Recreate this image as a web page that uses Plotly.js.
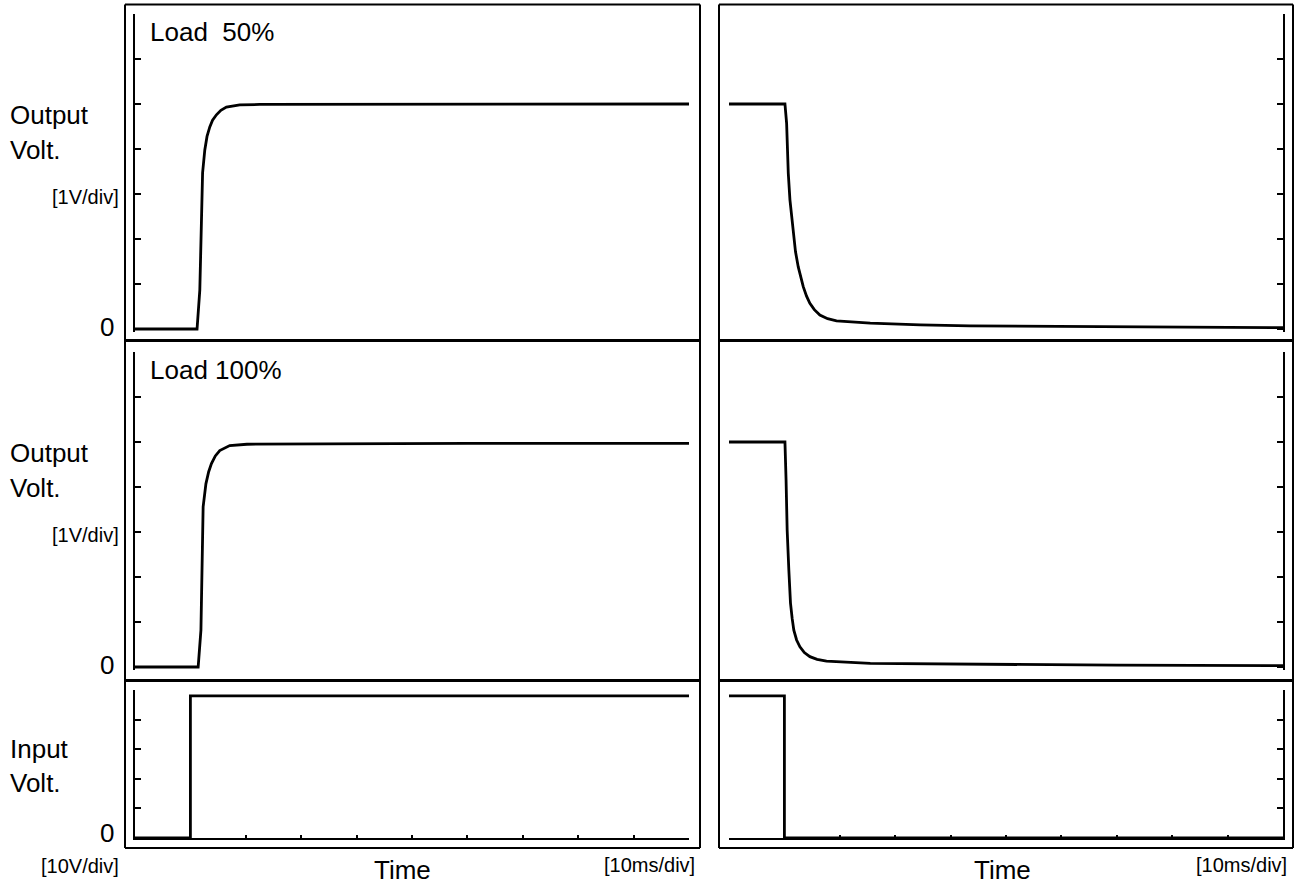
<!DOCTYPE html>
<html>
<head>
<meta charset="utf-8">
<script src="https://cdn.plot.ly/plotly-3.0.1.min.js"></script>
<style>html,body{margin:0;padding:0;background:#fff;}#chart{width:1305px;height:884px;}</style>
</head>
<body>
<div id="chart"></div>
<script>
// ---- Data (time in ms, 10 ms/div; output in V, 1 V/div; input in V, 10 V/div) ----
const t50_on  = [0, 11.2, 11.7, 12.0, 12.2, 12.6, 13.0, 13.5, 14.0, 14.7, 15.5, 16.5, 18.9, 22.5, 60, 100];
const v50_on  = [0, 0, 0.87, 2.36, 3.47, 3.98, 4.28, 4.49, 4.64, 4.76, 4.86, 4.93, 4.98, 4.99, 5.0, 5.0];

const t50_off = [0, 10.1, 10.4, 10.7, 11.0, 11.6, 12.0, 12.5, 13.4, 14.0, 14.6, 15.4, 16.4, 17.8, 19.4, 25.5, 34.5, 43.5, 70, 100];
const v50_off = [5.0, 5.0, 4.57, 3.46, 2.87, 2.13, 1.72, 1.38, 0.94, 0.73, 0.57, 0.43, 0.31, 0.23, 0.18, 0.13, 0.09, 0.07, 0.05, 0.03];

const t100_on = [0, 11.4, 11.9, 12.1, 12.3, 12.8, 13.3, 13.8, 14.5, 15.3, 17.1, 20.2, 60, 100];
const v100_on = [0, 0, 0.82, 2.31, 3.56, 4.07, 4.34, 4.52, 4.69, 4.81, 4.92, 4.95, 4.97, 4.97];

const t100_off = [0, 10.1, 10.3, 10.5, 10.8, 11.1, 11.4, 11.7, 12.2, 12.8, 13.6, 14.6, 15.9, 17.6, 25.5, 42.9, 70, 100];
const v100_off = [5.0, 5.0, 4.16, 3.04, 2.16, 1.42, 1.08, 0.82, 0.60, 0.45, 0.32, 0.23, 0.17, 0.13, 0.08, 0.06, 0.04, 0.03];

const tin_on  = [0, 10, 10, 100];
const vin_on  = [0, 0, 48, 48];
const tin_off = [0, 10, 10, 100];
const vin_off = [48, 48, 0, 0];

const panelLabels = ["Load  50%", "Load 100%"];
const outLabel = ["Output", "Volt."];
const inLabel = ["Input", "Volt."];
const outScale = "[1V/div]";
const inScale = "[10V/div]";
const timeLabel = "Time";
const timeScale = "[10ms/div]";
const zeroLabel = "0";

// ---- Layout helpers (pixel -> paper) ----
const W = 1305, H = 884;
const px = x => x / W;
const py = y => 1 - y / H;
const FONT = "Liberation Sans, Arial, sans-serif";

function tr(x, y, xa, ya) {
  return {x: x, y: y, xaxis: xa, yaxis: ya, type: "scatter", mode: "lines",
          line: {color: "#000", width: 2.8},
          hoverinfo: "skip", showlegend: false};
}
const data = [
  tr(t50_on, v50_on, "x", "y"),
  tr(t50_off, v50_off, "x2", "y2"),
  tr(t100_on, v100_on, "x3", "y3"),
  tr(t100_off, v100_off, "x4", "y4"),
  tr(tin_on, vin_on, "x5", "y5"),
  tr(tin_off, vin_off, "x6", "y6")
];

const xL = [px(135), px(689)], xR = [px(729), px(1283)];
const pad = 0.07;
function outDom(y0) { return [py(y0 + pad * 45), py(y0 - 315)]; }
const yTop = outDom(329), yMid = outDom(667);
const yBot = [py(838), py(690)];

function xHidden(dom, anchor) {
  return {domain: dom, anchor: anchor, range: [0, 100], showline: false, ticks: "",
          showticklabels: false, showgrid: false, zeroline: false, fixedrange: true};
}
function xShown(dom, anchor) {
  return {domain: dom, anchor: anchor, range: [0, 100], showline: true, linecolor: "#000",
          linewidth: 2, ticks: "inside", ticklen: 3, tickwidth: 2, tickcolor: "#000",
          tick0: 0, dtick: 10, showticklabels: false, showgrid: false, zeroline: false, fixedrange: true};
}
function yOut(dom, anchor, side) {
  return {domain: dom, anchor: anchor, side: side, range: [-pad, 7], showline: true, linecolor: "#000",
          linewidth: 2, ticks: "inside", ticklen: 6, tickwidth: 2, tickcolor: "#000",
          tick0: 0, dtick: 1, showticklabels: false, showgrid: false, zeroline: false, fixedrange: true};
}
function yIn(dom, anchor, side) {
  return {domain: dom, anchor: anchor, side: side, range: [0, 50], showline: true, linecolor: "#000",
          linewidth: 2, ticks: "inside", ticklen: 6, tickwidth: 2, tickcolor: "#000",
          tick0: 0, dtick: 10, showticklabels: false, showgrid: false, zeroline: false, fixedrange: true};
}

const shapes = [];
function hline(x0, x1, y, w) {
  shapes.push({type: "line", xref: "paper", yref: "paper", x0: px(x0), x1: px(x1), y0: py(y), y1: py(y),
               line: {color: "#000", width: w}});
}
function vline(x, y0, y1, w) {
  shapes.push({type: "line", xref: "paper", yref: "paper", x0: px(x), x1: px(x), y0: py(y0), y1: py(y1),
               line: {color: "#000", width: w}});
}
[[125, 700], [719, 1293]].forEach(([a, b]) => {
  hline(a, b, 4.5, 2);
  hline(a, b, 340.5, 3);
  hline(a, b, 680.5, 3);
  hline(a, b, 848, 2);
  vline(a, 4.5, 848, 2);
  vline(b, 4.5, 848, 2);
});

const annotations = [];
function txt(text, x, y, size, xanchor) {
  annotations.push({text: text, xref: "paper", yref: "paper", x: px(x), y: py(y),
                    xanchor: xanchor, yanchor: "middle", showarrow: false,
                    font: {family: FONT, size: size, color: "#000"}});
}
const BIG = 26, SMALL = 20;
txt(panelLabels[0], 148, 32, BIG, "left");
txt(panelLabels[1], 148, 370, BIG, "left");
txt(outLabel[0], 8, 115, BIG, "left");
txt(outLabel[1], 8, 150, BIG, "left");
txt(outScale, 121, 197, SMALL, "right");
txt(zeroLabel, 116, 327, BIG, "right");
txt(outLabel[0], 8, 453, BIG, "left");
txt(outLabel[1], 8, 488, BIG, "left");
txt(outScale, 121, 535, SMALL, "right");
txt(zeroLabel, 116, 665, BIG, "right");
txt(inLabel[0], 8, 749, BIG, "left");
txt(inLabel[1], 8, 783, BIG, "left");
txt(zeroLabel, 116, 833, BIG, "right");
txt(inScale, 121, 866, SMALL, "right");
txt(timeLabel, 372, 870, BIG, "left");
txt(timeScale, 697, 865, SMALL, "right");
txt(timeLabel, 972, 870, BIG, "left");
txt(timeScale, 1289, 865, SMALL, "right");

const layout = {
  width: W, height: H,
  margin: {l: 0, r: 0, t: 0, b: 0},
  paper_bgcolor: "#fff", plot_bgcolor: "rgba(0,0,0,0)",
  showlegend: false,
  font: {family: FONT, color: "#000"},
  xaxis: xHidden(xL, "y"),   yaxis: yOut(yTop, "x", "left"),
  xaxis2: xHidden(xR, "y2"), yaxis2: yOut(yTop, "x2", "right"),
  xaxis3: xHidden(xL, "y3"), yaxis3: yOut(yMid, "x3", "left"),
  xaxis4: xHidden(xR, "y4"), yaxis4: yOut(yMid, "x4", "right"),
  xaxis5: xShown(xL, "y5"),  yaxis5: yIn(yBot, "x5", "left"),
  xaxis6: xShown(xR, "y6"),  yaxis6: yIn(yBot, "x6", "right"),
  shapes: shapes,
  annotations: annotations
};

Plotly.newPlot("chart", data, layout, {staticPlot: true, displayModeBar: false});
</script>
</body>
</html>
